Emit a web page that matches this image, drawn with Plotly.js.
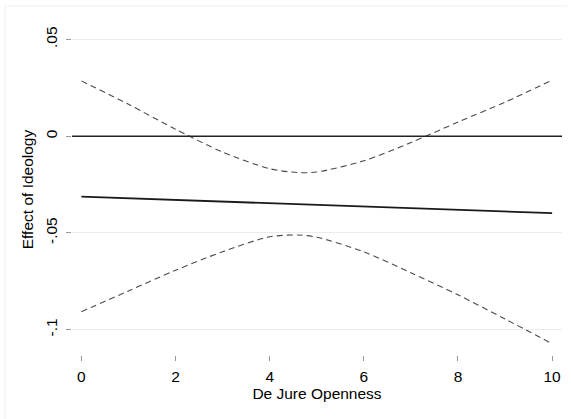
<!DOCTYPE html>
<html>
<head>
<meta charset="utf-8">
<script src="https://cdn.plot.ly/plotly-3.0.1.min.js"></script>
<style>
html,body{margin:0;padding:0;background:#fff;}
#chart{width:571px;height:419px;}
</style>
</head>
<body>
<div id="chart"></div>
<script>
// Data
var openness = [0, 1, 2, 3, 4, 4.6, 5, 6, 7, 8, 9, 10];
var upperCI = [0.0286, 0.0165, 0.0036, -0.0082, -0.0168, -0.0188, -0.0185, -0.0127, -0.0033, 0.0073, 0.0176, 0.0290];
var lowerCI = [-0.0907, -0.0800, -0.0693, -0.0597, -0.0520, -0.0511, -0.0522, -0.0598, -0.0706, -0.0820, -0.0945, -0.1073];
var effectX = [0, 4.66, 10];
var effect = [-0.0312, -0.0352, -0.0398];

var xTickVals = [0, 2, 4, 6, 8, 10];
var xTickText = ['0', '2', '4', '6', '8', '10'];
var yTickVals = [0.05, 0, -0.05, -0.1];
var yTickText = ['.05', '0', '-.05', '-.1'];

var dashStyle = {color: '#4a4a4a', width: 1.1, dash: '6px,4px', shape: 'spline', smoothing: 0.8};

var traces = [
  {x: openness, y: upperCI, type: 'scatter', mode: 'lines', line: dashStyle, hoverinfo: 'skip'},
  {x: openness, y: lowerCI, type: 'scatter', mode: 'lines', line: dashStyle, hoverinfo: 'skip'},
  {x: effectX, y: effect, type: 'scatter', mode: 'lines', line: {color: '#1a1a1a', width: 1.8}, hoverinfo: 'skip'}
];

var fontFam = 'Liberation Sans, Arial, Helvetica, sans-serif';
var fs = 15.5;

var layout = {
  width: 571, height: 419,
  margin: {l: 72, r: 9, t: 24, b: 64},
  paper_bgcolor: '#fff', plot_bgcolor: '#fff',
  showlegend: false,
  font: {family: fontFam, size: fs, color: '#000'},
  xaxis: {
    range: [-0.2, 10.21],
    tickvals: xTickVals, ticktext: xTickText,
    ticks: 'outside', ticklen: 5, tickwidth: 1, tickcolor: '#999',
    showgrid: false, zeroline: false, showline: false,
    ticklabelstandoff: 2,
    tickfont: {family: fontFam, size: fs, color: '#000'},
    title: {text: 'De Jure Openness', font: {family: fontFam, size: fs, color: '#000'}, standoff: 4}
  },
  yaxis: {
    range: [-0.1131, 0.058],
    tickvals: yTickVals, ticktext: yTickText,
    tickangle: -90,
    ticks: 'outside', ticklen: 5, tickwidth: 1, tickcolor: '#999',
    showgrid: true, gridcolor: '#ebebeb', gridwidth: 1,
    zeroline: false, showline: false,
    ticklabelstandoff: 3,
    tickfont: {family: fontFam, size: fs, color: '#000'},
    title: {text: 'Effect of Ideology', font: {family: fontFam, size: fs, color: '#000'}, standoff: 5}
  },
  shapes: [
    {type: 'line', xref: 'paper', yref: 'y', x0: 0, x1: 1, y0: 0, y1: 0, line: {color: '#222', width: 1.5}},
    {type: 'line', xref: 'paper', yref: 'paper', x0: -0.1367, x1: -0.1367, y0: -0.2, y1: 1.0544, line: {color: '#eeeeee', width: 1}},
    {type: 'line', xref: 'paper', yref: 'paper', x0: -0.1367, x1: 1.01, y0: 1.0544, y1: 1.0544, line: {color: '#eeeeee', width: 1}}
  ]
};

Plotly.newPlot('chart', traces, layout, {displayModeBar: false, staticPlot: true});
</script>
</body>
</html>
